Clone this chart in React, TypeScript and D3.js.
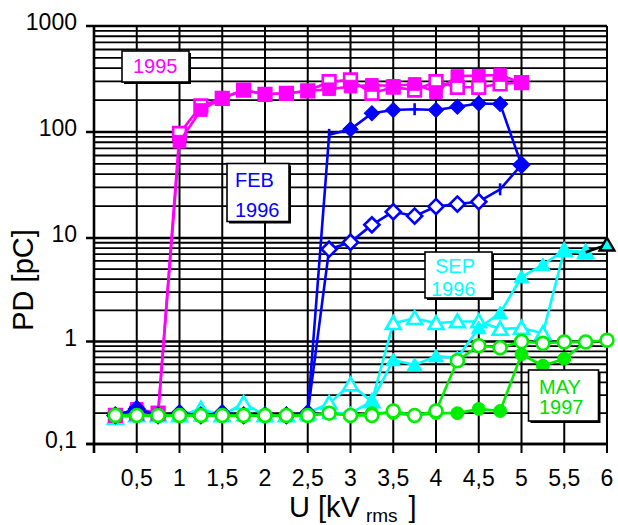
import React, { useRef, useEffect } from "react";
import * as d3 from "d3";

// measuring voltage U [kV rms], steps of 0.25
const voltage = [0.25, 0.5, 0.75, 1, 1.25, 1.5, 1.75, 2, 2.25, 2.5, 2.75, 3,
  3.25, 3.5, 3.75, 4, 4.25, 4.5, 4.75, 5, 5.25, 5.5, 5.75, 6];

const xTicks = [0.5, 1, 1.5, 2, 2.5, 3, 3.5, 4, 4.5, 5, 5.5, 6];
const xTickLabels = ["0,5", "1", "1,5", "2", "2,5", "3", "3,5", "4", "4,5", "5", "5,5", "6"];
const yTicks = [0.1, 1, 10, 100, 1000];
const yTickLabels = ["0,1", "1", "10", "100", "1000"];

// PD [pC] per voltage step (null = not measured)
const pd1995Filled = [0.19, 0.22, 0.2, 81, 161, 208, 249, 227, 232, 244, 253, 268,
  278, 272, 284, 238, 337, 340, 345, 292, null, null, null, null];
const pd1995Open = [0.19, 0.2, 0.2, 97, 176, 208, 249, 227, 232, 244, 298, 310,
  232, 265, 249, 298, 264, 264, 284, 292, null, null, null, null];

const pdFebFilled = [0.19, 0.22, 0.19, 0.2, 0.19, 0.2, 0.19, 0.19, 0.19, 0.2, 94, 106,
  150, 161, 164, 161, 173, 186, 184, 49, null, null, null, null];
const pdFebOpen = [0.19, 0.22, 0.19, 0.2, 0.19, 0.2, 0.19, 0.19, 0.19, 0.2, 7.8, 9.1,
  13.3, 17.7, 16.1, 19.8, 20.9, 22, 28.8, 49, null, null, null, null];
const febDashFilled = [2.75, 3.75];
const febDashOpen = [4.75];

const pdSepOpen = [0.18, 0.19, 0.19, 0.19, 0.22, 0.19, 0.25, 0.19, 0.19, 0.2, 0.25, 0.38,
  0.26, 1.5, 1.68, 1.5, 1.56, 1.56, 1.32, 1.35, 1.2, 7.6, 7.3, null];
const pdSepFilled = [0.18, 0.19, 0.19, 0.19, 0.19, 0.19, 0.19, 0.19, 0.19, 0.19, 0.2, 0.2,
  0.26, 0.66, 0.59, 0.72, 0.69, 1.35, 1.88, 4.2, 5.5, 7.65, 7.1, null];
const sepTailX = [5.75, 6];
const sepTailPD = [7.3, 8.6];

const pdMayFilled = [0.19, 0.19, 0.19, 0.19, 0.19, 0.19, 0.19, 0.19, 0.19, 0.19, 0.2, 0.19,
  0.2, 0.2, 0.19, 0.2, 0.2, 0.22, 0.21, 0.75, 0.58, 0.68, 0.99, null];
const pdMayOpen = [0.19, 0.19, 0.19, 0.19, 0.19, 0.19, 0.19, 0.19, 0.19, 0.19, 0.2, 0.19,
  0.19, 0.21, 0.19, 0.21, 0.65, 0.91, 0.87, 1.0, 0.96, 0.99, 0.99, 1.03];

const FONT = "'Liberation Sans', Arial, sans-serif";

function App() {
  const svgRef = useRef(null);
  const width = 618;
  const height = 525;

  useEffect(() => {
    const svg = d3.select(svgRef.current);
    svg.selectAll("*").remove();

    const x = d3.scaleLinear().domain([0, 6]).range([94, 607]);
    const y = d3.scaleLog()
      .domain([0.1, 1, 10, 100, 1000])
      .range([444, 341.5, 238, 132, 26]);

    const grid = svg.append("g").attr("stroke", "#000");

    // minor log grid
    const minor = [];
    [0.1, 1, 10, 100].forEach(d => { for (let k = 2; k <= 9; k++) minor.push(k * d); });
    grid.selectAll("line.minor").data(minor).join("line")
      .attr("class", "minor")
      .attr("x1", x(0)).attr("x2", x(6))
      .attr("y1", d => y(d)).attr("y2", d => y(d))
      .attr("stroke-width", 1.8);

    // vertical grid
    grid.selectAll("line.vert").data(xTicks).join("line")
      .attr("class", "vert")
      .attr("x1", d => x(d)).attr("x2", d => x(d))
      .attr("y1", y(1000)).attr("y2", y(0.1) + 9)
      .attr("stroke-width", 2);

    // major grid + ticks
    grid.selectAll("line.major").data(yTicks).join("line")
      .attr("class", "major")
      .attr("x1", x(0) - 8).attr("x2", x(6))
      .attr("y1", d => y(d)).attr("y2", d => y(d))
      .attr("stroke-width", 2.4);

    // axes
    grid.append("line")
      .attr("x1", x(0)).attr("x2", x(0))
      .attr("y1", y(1000)).attr("y2", y(0.1) + 9)
      .attr("stroke-width", 2.6);
    grid.append("line")
      .attr("x1", x(0) - 8).attr("x2", x(6) + 1)
      .attr("y1", y(0.1)).attr("y2", y(0.1))
      .attr("stroke-width", 2.6);

    // tick labels
    svg.append("g")
      .selectAll("text").data(yTicks).join("text")
      .attr("x", 77).attr("y", d => y(d) + 4)
      .attr("text-anchor", "end")
      .attr("font-family", FONT).attr("font-size", 23)
      .text((d, i) => yTickLabels[i]);
    svg.append("g")
      .selectAll("text").data(xTicks).join("text")
      .attr("x", d => x(d)).attr("y", 486)
      .attr("text-anchor", "middle")
      .attr("font-family", FONT).attr("font-size", 23)
      .text((d, i) => xTickLabels[i]);

    // axis titles
    svg.append("text")
      .attr("transform", "translate(33,280) rotate(-90)")
      .attr("text-anchor", "middle")
      .attr("font-family", FONT).attr("font-size", 29)
      .text("PD [pC]");
    const xt = svg.append("text")
      .attr("x", 289).attr("y", 517)
      .attr("font-family", FONT).attr("font-size", 29);
    xt.append("tspan").text("U [kV");
    xt.append("tspan").attr("dx", 6).attr("dy", 5).attr("font-size", 19).text("rms");
    xt.append("tspan").attr("dx", 11).attr("dy", -5).text("]");

    // series
    const line = d3.line()
      .defined(d => d[1] != null)
      .x(d => x(d[0]))
      .y(d => y(d[1]));

    const markerPath = {
      square: d3.symbol(d3.symbolSquare, 160)(),
      diamond: d3.symbol(d3.symbolSquare, 115)(),
      triangle: d3.symbol(d3.symbolTriangle, 95)(),
      circle: d3.symbol(d3.symbolCircle, 130)(),
    };

    function drawSeries(values, color, marker, filled, skip = []) {
      const pts = voltage.map((v, i) => [v, values[i]]);
      const g = svg.append("g");
      g.append("path")
        .attr("d", line(pts))
        .attr("fill", "none")
        .attr("stroke", color)
        .attr("stroke-width", 2.6)
        .attr("stroke-linejoin", "round");
      g.selectAll("path.m")
        .data(pts.filter(d => d[1] != null && !skip.includes(d[0])))
        .join("path")
        .attr("class", "m")
        .attr("d", markerPath[marker])
        .attr("transform", d => `translate(${x(d[0])},${y(d[1]) + (marker === "triangle" ? 1.5 : 0)})${marker === "diamond" ? " rotate(45)" : ""}`)
        .attr("fill", filled ? color : "#fff")
        .attr("stroke", color)
        .attr("stroke-width", filled ? 1 : 2.6);
    }

    function drawDashes(values, xs, color) {
      svg.append("g").selectAll("line").data(xs).join("line")
        .attr("x1", d => x(d)).attr("x2", d => x(d))
        .attr("y1", d => y(values[voltage.indexOf(d)]) - 6)
        .attr("y2", d => y(values[voltage.indexOf(d)]) + 6)
        .attr("stroke", color).attr("stroke-width", 2.6);
    }

    drawSeries(pdSepOpen, "#00FFFF", "triangle", false);
    drawSeries(pdSepFilled, "#00FFFF", "triangle", true);

    // tail of the SEP curve
    svg.append("path")
      .attr("d", d3.line().x(d => x(d[0])).y(d => y(d[1]))(sepTailX.map((v, i) => [v, sepTailPD[i]])))
      .attr("stroke", "#000").attr("stroke-width", 2.6).attr("fill", "none");
    svg.append("path")
      .attr("d", markerPath.triangle)
      .attr("transform", `translate(${x(sepTailX[1])},${y(sepTailPD[1]) + 1.5})`)
      .attr("fill", "#00FFFF").attr("stroke", "#000").attr("stroke-width", 2.4);

    drawSeries(pd1995Open, "#FF00FF", "square", false);
    drawSeries(pd1995Filled, "#FF00FF", "square", true);

    drawSeries(pdFebOpen, "#0000FF", "diamond", false, febDashOpen);
    drawSeries(pdFebFilled, "#0000FF", "diamond", true, febDashFilled);
    drawDashes(pdFebFilled, febDashFilled, "#0000FF");
    drawDashes(pdFebOpen, febDashOpen, "#0000FF");

    drawSeries(pdMayFilled, "#00EE00", "circle", true);
    drawSeries(pdMayOpen, "#00EE00", "circle", false);

    // labels in boxes
    const boxes = [
      { x: 122, y: 51, w: 67, h: 31, color: "#FF00FF", lines: [["1995", 133, 72.5]] },
      { x: 227, y: 163.5, w: 62, h: 58, color: "#0000FF", lines: [["FEB", 235, 187], ["1996", 235, 216.5]] },
      { x: 425, y: 252, w: 67, h: 46, color: "#00FFFF", lines: [["SEP", 435, 272.5], ["1996", 431, 296]] },
      { x: 528.5, y: 370, w: 70, h: 51, color: "#00DD00", lines: [["MAY", 539, 394], ["1997", 539, 414]] },
    ];
    boxes.forEach(b => {
      const g = svg.append("g");
      g.append("rect").attr("x", b.x + 2).attr("y", b.y + 2)
        .attr("width", b.w).attr("height", b.h).attr("fill", "#000");
      g.append("rect").attr("x", b.x).attr("y", b.y)
        .attr("width", b.w).attr("height", b.h)
        .attr("fill", "#fff").attr("stroke", "#000").attr("stroke-width", 1.6);
      b.lines.forEach(([t, tx, ty]) => {
        g.append("text").attr("x", tx).attr("y", ty)
          .attr("font-family", FONT).attr("font-size", 20)
          .attr("fill", b.color).text(t);
      });
    });
  }, []);

  return (
    <div>
      <svg ref={svgRef} width={width} height={height}
        style={{ position: "absolute", left: 0, top: 0, background: "#fff" }}></svg>
    </div>
  );
}

export default App;
